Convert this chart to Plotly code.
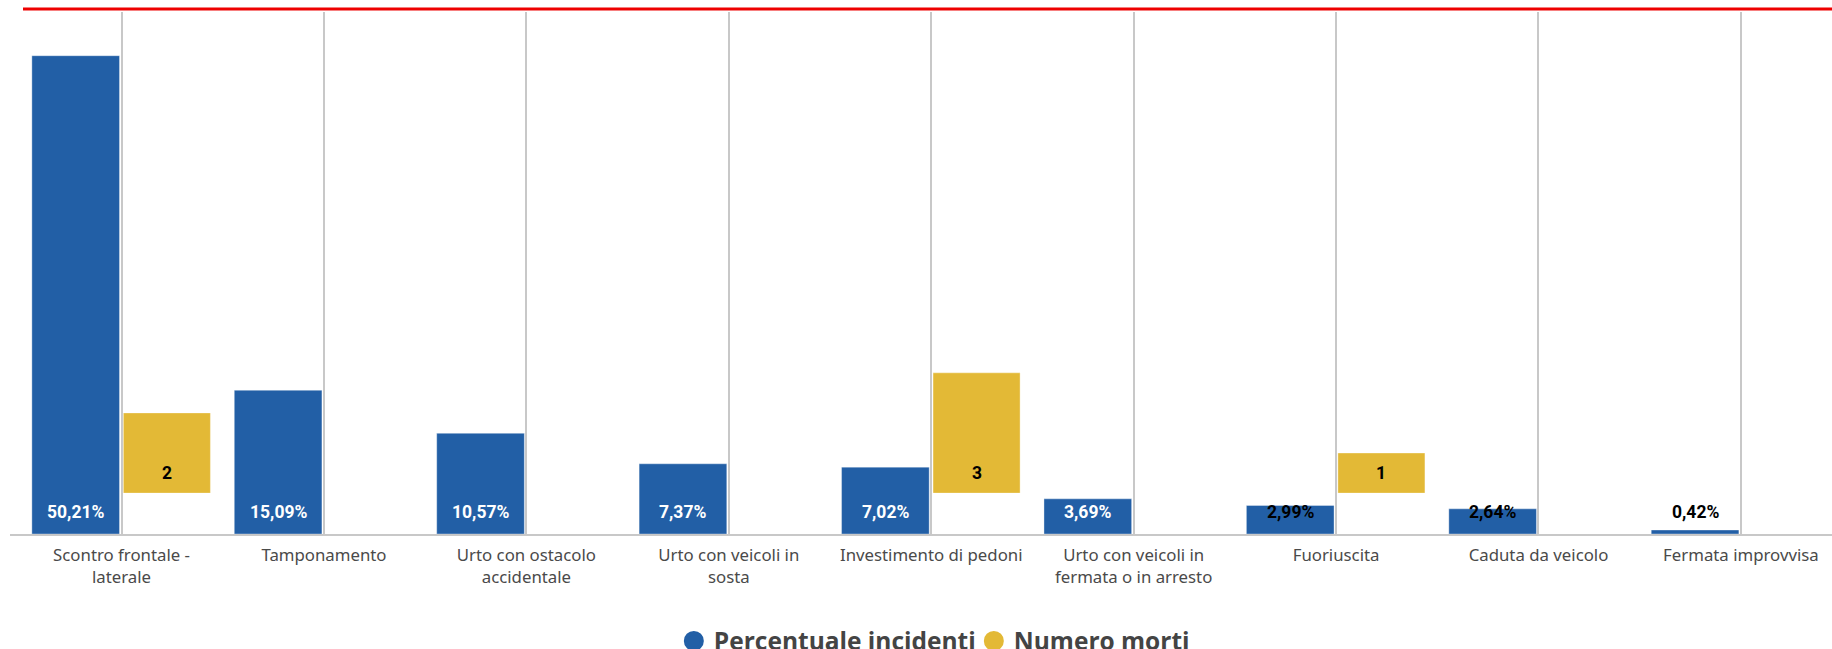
import plotly.graph_objects as go

categories = [
    "Scontro frontale -<br>laterale",
    "Tamponamento",
    "Urto con ostacolo<br>accidentale",
    "Urto con veicoli in<br>sosta",
    "Investimento di pedoni",
    "Urto con veicoli in<br>fermata o in arresto",
    "Fuoriuscita",
    "Caduta da veicolo",
    "Fermata improvvisa",
]
pct_incidenti = [50.21, 15.09, 10.57, 7.37, 7.02, 3.69, 2.99, 2.64, 0.42]
numero_morti = [2, None, None, None, 3, None, 1, None, None]

BLUE = "#225FA6"
YELLOW = "#E3B936"

x_idx = list(range(len(categories)))
B_OFF, B_W = -0.443, 0.433
Y_OFF, Y_W = 0.009, 0.43

fig = go.Figure()
fig.add_trace(go.Bar(
    x=x_idx, y=pct_incidenti, offset=B_OFF, width=B_W,
    marker=dict(color=BLUE, line=dict(color="rgba(255,255,255,0.35)", width=1)),
    yaxis="y", showlegend=False, hoverinfo="y",
))
fig.add_trace(go.Bar(
    x=x_idx, y=numero_morti, offset=Y_OFF, width=Y_W,
    marker=dict(color=YELLOW, line=dict(color="rgba(255,255,255,0.35)", width=1)),
    yaxis="y2", showlegend=False, hoverinfo="y",
))
# legend entries with round symbols
fig.add_trace(go.Scatter(x=[None], y=[None], mode="markers", name="Percentuale incidenti",
                         marker=dict(symbol="circle", size=18, color=BLUE,
                                     line=dict(color=BLUE, width=4))))
fig.add_trace(go.Scatter(x=[None], y=[None], mode="markers", name="Numero morti",
                         marker=dict(symbol="circle", size=18, color=YELLOW,
                                     line=dict(color=YELLOW, width=4))))

annotations = []
for i, v in enumerate(pct_incidenti):
    lbl = f"{v:.2f}".replace(".", ",") + "%"
    col = "white" if v >= 3.5 else "black"
    annotations.append(dict(
        x=i + B_OFF + B_W / 2, y=0, xref="x", yref="y", yanchor="middle",
        yshift=22, text=f"<b>{lbl}</b>", showarrow=False,
        font=dict(family="Roboto", size=17.5, color=col),
    ))
for i, v in enumerate(numero_morti):
    if v is None:
        continue
    annotations.append(dict(
        x=i + Y_OFF + Y_W / 2, y=0, xref="x", yref="y2", yanchor="middle",
        yshift=20, text=f"<b>{v}</b>", showarrow=False,
        font=dict(family="Roboto", size=17.5, color="black"),
    ))

fig.update_layout(
    width=1832, height=649,
    margin=dict(l=10, r=0, t=12, b=115, autoexpand=False),
    paper_bgcolor="white", plot_bgcolor="white",
    barmode="overlay",
    xaxis=dict(
        range=[-0.551, 8.45], tickmode="array", tickvals=x_idx, ticktext=categories,
        showgrid=True, gridcolor="#c8c8c8", gridwidth=2,
        showline=True, linecolor="#c8c8c8", linewidth=2,
        zeroline=False, ticks="", ticklabelstandoff=5,
        tickfont=dict(family="Noto Sans", size=16.8, color="#4a4a4a"),
    ),
    yaxis=dict(range=[0, 54.8], visible=False, fixedrange=True),
    yaxis2=dict(range=[-1.02, 12.0], overlaying="y", visible=False, fixedrange=True),
    legend=dict(
        orientation="h", x=0.529, xanchor="center", y=-0.205, yanchor="middle",
        font=dict(family="Open Sans", size=24.5, color="#444444", weight="bold"),
        itemwidth=30, entrywidth=255,
    ),
    annotations=annotations,
    shapes=[dict(type="line", xref="paper", yref="paper",
                 x0=(23 - 10) / 1822, x1=1.0, y0=1 + 3 / 522, y1=1 + 3 / 522,
                 line=dict(color="#ee0000", width=3))],
)

fig.write_html(
    "out.html",
    config={"displayModeBar": False},
    post_script="document.body.style.margin='0';document.body.style.overflow='hidden';",
)
